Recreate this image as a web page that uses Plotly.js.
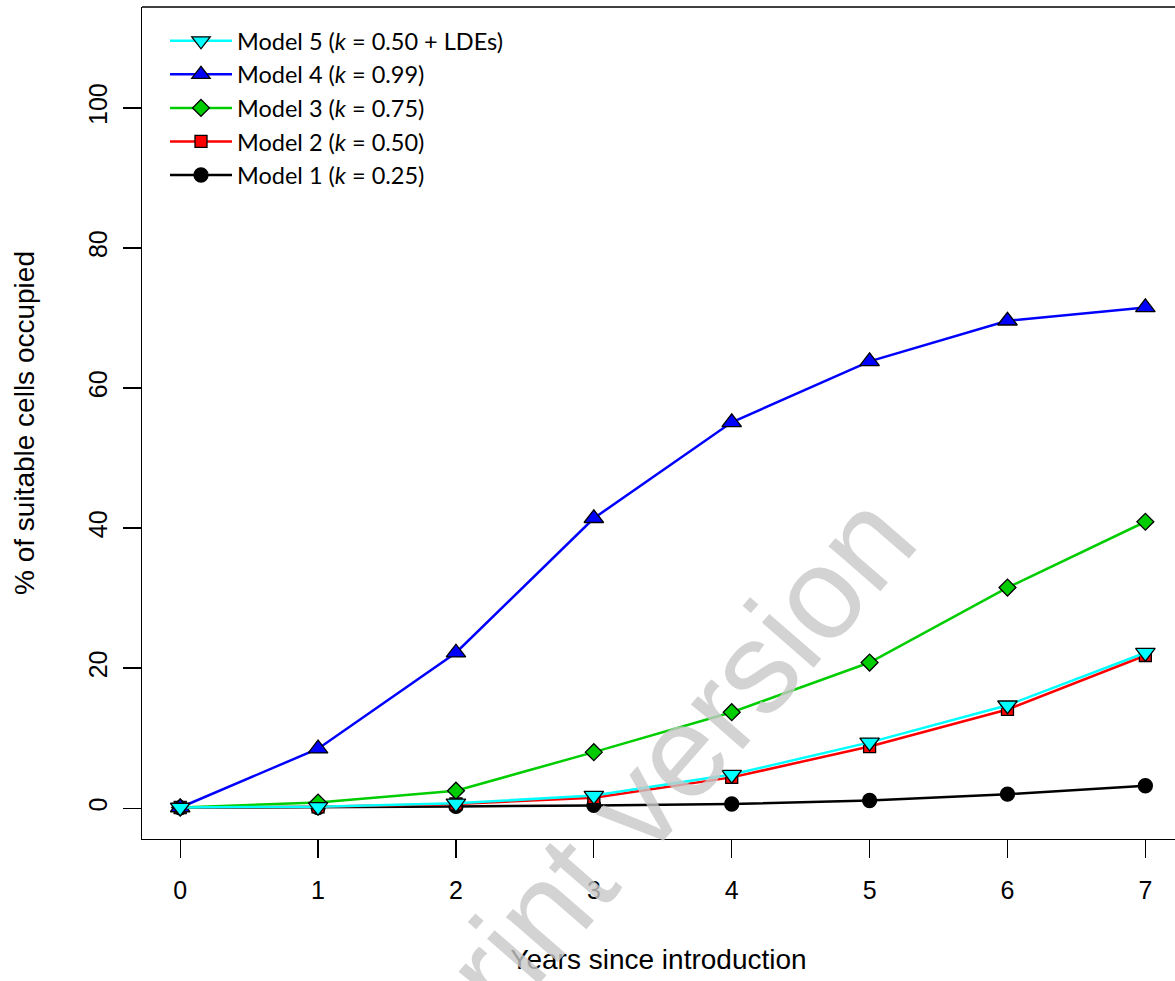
<!DOCTYPE html>
<html><head><meta charset="utf-8">
<script src="https://cdn.plot.ly/plotly-3.0.1.min.js"></script>
<style>html,body{margin:0;padding:0;background:#fff;} #chart{width:1175px;height:981px;}</style>
</head><body><div id="chart"></div>
<script>
const years = [0, 1, 2, 3, 4, 5, 6, 7];
const model1 = [0.05, 0.1, 0.25, 0.4, 0.6, 1.1, 2.0, 3.2];
const model2 = [0.1, 0.2, 0.6, 1.5, 4.4, 8.8, 14.1, 21.8];
const model3 = [0.1, 0.8, 2.5, 8.0, 13.7, 20.8, 31.5, 40.9];
const model4 = [0.1, 8.5, 22.2, 41.4, 55.1, 63.8, 69.6, 71.5];
const model5 = [0.1, 0.2, 0.7, 1.8, 4.8, 9.4, 14.7, 22.2];
const seriesNames = [
  'Model 1 (<i>k</i> = 0.25)',
  'Model 2 (<i>k</i> = 0.50)',
  'Model 3 (<i>k</i> = 0.75)',
  'Model 4 (<i>k</i> = 0.99)',
  'Model 5 (<i>k</i> = 0.50 + LDEs)'
];
const yTicks = [0, 20, 40, 60, 80, 100];
const xTitle = 'Years since introduction';
const yTitle = '% of suitable cells occupied';
const watermark = 'preprint version';

const series = [model1, model2, model3, model4, model5];
const lineColors = ['#000000', '#FF0000', '#00CD00', '#0000FF', '#00FFFF'];
const fillColors = ['#000000', '#FF0000', '#00CD00', '#0000FF', '#00FFFF'];
const symbols = ['circle', 'square', 'diamond', 'triangle-up', 'triangle-down'];
const sizes = [14, 12, 13, 17, 17];

const traces = series.map((ys, i) => ({
  x: years, y: ys, type: 'scatter', mode: 'lines+markers', name: seriesNames[i],
  line: {color: lineColors[i], width: 2.5},
  marker: {symbol: symbols[i], size: sizes[i], color: fillColors[i], line: {color: '#000', width: 1.3}},
  cliponaxis: false
}));

const layout = {
  width: 1175, height: 981,
  margin: {l: 142, r: 0, t: 7, b: 142, pad: 0},
  paper_bgcolor: '#fff', plot_bgcolor: '#fff',
  font: {family: 'Liberation Sans, Arial, sans-serif', color: '#000'},
  showlegend: true,
  legend: {x: (165 - 142) / 1033, y: 1 - 12 / 832, xanchor: 'left', yanchor: 'top', traceorder: 'reversed',
    font: {family: 'Lato, sans-serif', size: 23.5, color: '#000'}, itemwidth: 62,
    bgcolor: 'rgba(0,0,0,0)', borderwidth: 0},
  xaxis: {range: [-0.277, 7.215], tickvals: years, ticktext: years.map(String), ticks: 'outside', ticklen: 18,
    tickwidth: 1.3, tickcolor: '#000', showline: true, linecolor: '#000', linewidth: 1.3,
    showgrid: false, zeroline: false, tickfont: {size: 25}, ticklabelstandoff: 11,
    title: {text: xTitle, font: {size: 28}, standoff: 46}},
  yaxis: {range: [-4.4, 114.4], tickvals: yTicks, ticktext: yTicks.map(String), tickangle: -90, ticks: 'outside', ticklen: 18,
    tickwidth: 1.3, tickcolor: '#000', showline: true, linecolor: '#000', linewidth: 1.3,
    showgrid: false, zeroline: false, tickfont: {size: 25}, ticklabelstandoff: 6,
    title: {text: yTitle, font: {size: 28}, standoff: 41}},
  shapes: [{type: 'line', xref: 'paper', yref: 'paper', x0: 0, x1: 1, y0: 1, y1: 1, line: {color: '#000', width: 1.3}}],
  annotations: [{text: watermark, xref: 'paper', yref: 'paper', x: (594 - 142) / 1033, y: (839 - 852) / 832,
    xanchor: 'center', yanchor: 'middle', textangle: -49, showarrow: false,
    font: {family: 'Liberation Sans, Arial, sans-serif', size: 130, color: 'rgba(200,200,200,0.8)'}}]
};

Plotly.newPlot('chart', traces, layout, {displayModeBar: false, staticPlot: true});
</script></body></html>
